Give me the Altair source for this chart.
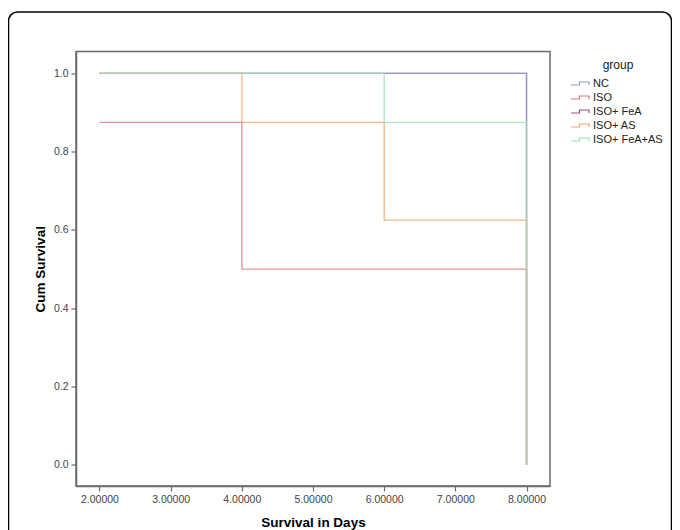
import altair as alt
import pandas as pd

groups = ["NC", "ISO", "ISO+ FeA", "ISO+ AS", "ISO+ FeA+AS"]
colors = ["#8e9bd8", "#e07880", "#a04a88", "#f0a466", "#9adfb0"]

# Kaplan-Meier step points (time, cumulative survival) per group
nc_t = [2, 8]
nc_s = [1.0, 0.0]
iso_t = [2, 4, 8]
iso_s = [0.875, 0.5, 0.0]
fea_t = [2, 8]
fea_s = [1.0, 0.0]
as_t = [2, 4, 6, 8]
as_s = [1.0, 0.875, 0.625, 0.0]
feaas_t = [2, 6, 8]
feaas_s = [1.0, 0.875, 0.0]

x_ticks = [2, 3, 4, 5, 6, 7, 8]
y_ticks = [0.0, 0.2, 0.4, 0.6, 0.8, 1.0]

# drawing order (first drawn is underneath)
draw_order = ["ISO+ FeA", "NC", "ISO", "ISO+ AS", "ISO+ FeA+AS"]
series = {
    "NC": (nc_t, nc_s),
    "ISO": (iso_t, iso_s),
    "ISO+ FeA": (fea_t, fea_s),
    "ISO+ AS": (as_t, as_s),
    "ISO+ FeA+AS": (feaas_t, feaas_s),
}

rows = []
for g in draw_order:
    ts, ss = series[g]
    for i, (t, s) in enumerate(zip(ts, ss)):
        rows.append({"group": g, "time": t, "surv": s, "idx": i})
df = pd.DataFrame(rows)

FONT = "Liberation Sans"

lines = alt.Chart(df).mark_line(interpolate="step-after", strokeWidth=1.3, opacity=0.8).encode(
    x=alt.X("time:Q", title="Survival in Days",
            scale=alt.Scale(domain=[1.67, 8.33], nice=False, zero=False),
            axis=alt.Axis(values=x_ticks, format=".5f", grid=False,
                          titlePadding=11)),
    y=alt.Y("surv:Q", title="Cum Survival",
            scale=alt.Scale(domain=[-0.054, 1.056], nice=False, zero=False),
            axis=alt.Axis(values=y_ticks, format=".1f", grid=False,
                          titlePadding=6)),
    color=alt.Color("group:N", title="group",
                    scale=alt.Scale(domain=groups, range=colors),
                    legend=alt.Legend(orient="none", legendX=498, legendY=8,
                                      titleAnchor="middle", symbolOpacity=1)),
    order="idx:Q",
)

border = alt.Chart(pd.DataFrame({"a": [0]})).mark_rect(
    fill=None, stroke="#000000", strokeWidth=1.5, cornerRadius=9, clip=False
).encode(
    x=alt.value(-67.5), x2=alt.value(595.5),
    y=alt.value(-39.5), y2=alt.value(600),
)

chart = alt.layer(border, lines).properties(
    width=474, height=434.5,
    padding={"left": 68, "top": 43.5, "right": 122, "bottom": 44},
    autosize=alt.AutoSizeParams(type="none"),
    background="white",
).configure_view(
    stroke="#6a6a6a", strokeWidth=1.5
).configure_axis(
    domainColor="#6a6a6a", domainWidth=1.5,
    tickColor="#6a6a6a", tickSize=5, tickWidth=1.2,
    labelFont=FONT, labelFontSize=10.5, labelColor="#444444", labelPadding=3,
    titleFont=FONT, titleFontSize=13.5, titleFontWeight="bold", titleColor="#000000",
).configure_legend(
    titleFont=FONT, titleFontSize=12, titleFontWeight="normal", titleColor="#222222",
    labelFont=FONT, labelFontSize=11, labelColor="#222222",
    symbolType="M-1.8,0.3L-0.1,0.3L-0.1,-0.3L1.8,-0.3L1.8,0.3",
    symbolSize=100, symbolStrokeWidth=1.2, symbolFillColor="transparent",
    labelOffset=7, rowPadding=3, titlePadding=6, padding=0,
)

chart.save("out.html", embed_options={"renderer": "svg", "actions": False})
